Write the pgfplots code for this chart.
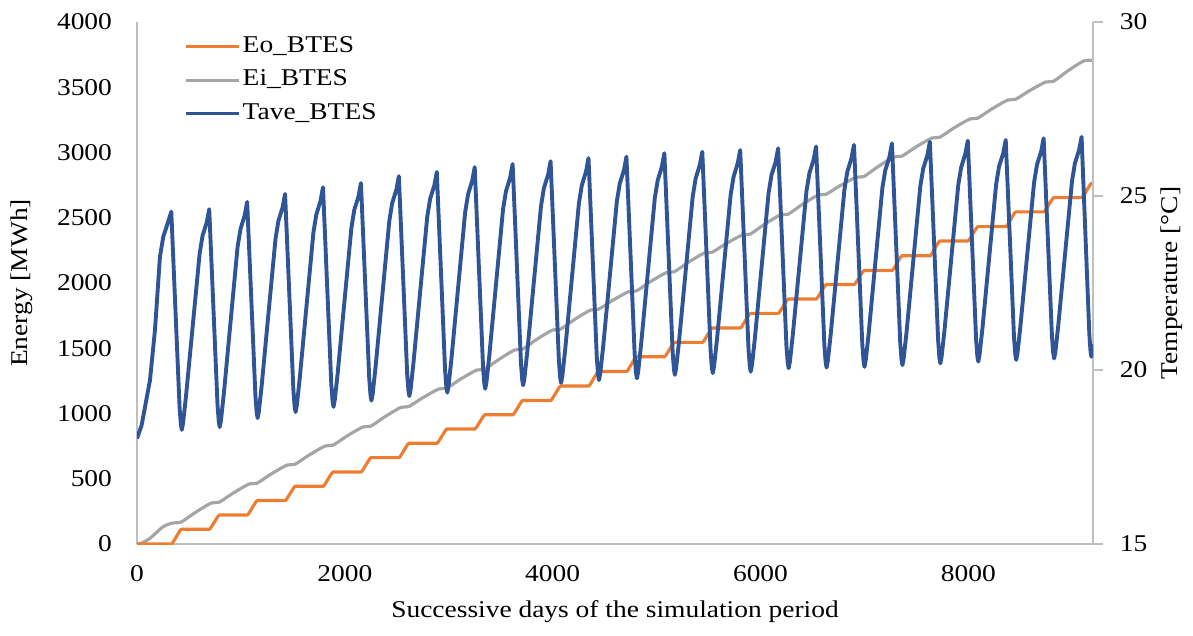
\documentclass[border=0pt]{standalone}
\usepackage{fontspec}
\setmainfont{Liberation Serif}[FakeStretch=1.14]
\usepackage{pgfplots}
\pgfplotsset{compat=1.18}
\definecolor{cOr}{HTML}{ED7D31}
\definecolor{cGr}{HTML}{A5A5A5}
\definecolor{cBl}{HTML}{2F5597}
\definecolor{cAx}{HTML}{BFBFBF}
\begin{document}%
\fontsize{13}{15}\selectfont%
\begin{tikzpicture}[font=\fontsize{13}{15}\selectfont]
\path[use as bounding box] (-73.98pt,-49.14pt) rectangle (570.24pt,293.76pt);
\begin{axis}[
  at={(0pt,0pt)}, anchor=south west,
  scale only axis, width=516.24pt, height=281.88pt,
  xmin=0, xmax=9200, ymin=0, ymax=4000,
  axis x line*=bottom, axis y line*=left,
  axis line style={draw=cAx, line width=1.1pt},
  xtick={0,2000,4000,6000,8000}, ytick={0,500,...,4000},
  major tick length=0pt,
  /pgf/number format/assume math mode=true,
  /pgf/number format/1000 sep={},
  yticklabel style={xshift=-9pt},
  xticklabel style={yshift=-7pt},
  xlabel={Successive days of the simulation period},
  ylabel={Energy [MWh]},
  xlabel style={at={(axis description cs:0.5,-0.13)}, anchor=center},
  ylabel style={at={(axis description cs:-0.1203,0.5)}, anchor=center},
]
\addplot[cGr, line width=1.7pt, smooth, tension=0.5] coordinates {
(0,0)(40,5)(125,44)(253,133)(350,162)(425,168)(560,241)
(715,314)(790,320)(925,390)
(1080,460)(1155,466)(1290,536)
(1445,605)(1520,611)(1655,681)
(1810,751)(1885,757)(2020,827)
(2175,897)(2250,903)(2385,975)
(2540,1047)(2615,1053)(2750,1121)
(2905,1188)(2980,1194)(3115,1264)
(3270,1333)(3345,1339)(3480,1413)
(3635,1487)(3710,1493)(3845,1567)
(4000,1640)(4075,1646)(4210,1720)
(4365,1793)(4440,1799)(4575,1866)
(4730,1933)(4805,1939)(4940,2010)
(5095,2080)(5170,2086)(5305,2158)
(5460,2230)(5535,2236)(5670,2302)
(5825,2368)(5900,2374)(6035,2448)
(6190,2521)(6265,2527)(6400,2601)
(6555,2674)(6630,2680)(6765,2745)
(6920,2810)(6995,2816)(7130,2891)
(7285,2966)(7360,2972)(7495,3042)
(7650,3111)(7725,3117)(7860,3187)
(8015,3257)(8090,3263)(8225,3333)
(8380,3402)(8455,3408)(8590,3474)
(8745,3540)(8820,3546)(8955,3624)
(9110,3701)(9200,3704)
};
\addplot[cOr, line width=1.7pt, line join=round] coordinates {
(0,0)(333,0)(345,11)(413,102)(427,113)
(698,113)(710,124)(778,211)(792,222)
(1063,222)(1075,233)(1143,322)(1157,333)
(1428,333)(1440,344)(1508,431)(1522,442)
(1793,442)(1805,453)(1873,541)(1887,552)
(2158,552)(2170,563)(2238,651)(2252,662)
(2523,662)(2535,673)(2603,761)(2617,772)
(2888,772)(2900,783)(2968,870)(2982,881)
(3253,881)(3265,892)(3333,979)(3347,990)
(3618,990)(3630,1001)(3698,1089)(3712,1100)
(3983,1100)(3995,1111)(4063,1200)(4077,1211)
(4348,1211)(4360,1222)(4428,1311)(4442,1322)
(4713,1322)(4725,1333)(4793,1424)(4807,1435)
(5078,1435)(5090,1446)(5158,1534)(5172,1545)
(5443,1545)(5455,1556)(5523,1644)(5537,1655)
(5808,1655)(5820,1666)(5888,1756)(5902,1767)
(6173,1767)(6185,1778)(6253,1866)(6267,1877)
(6538,1877)(6550,1888)(6618,1977)(6632,1988)
(6903,1988)(6915,1999)(6983,2085)(6997,2096)
(7268,2096)(7280,2107)(7348,2198)(7362,2209)
(7633,2209)(7645,2220)(7713,2311)(7727,2322)
(7998,2322)(8010,2333)(8078,2421)(8092,2432)
(8363,2432)(8375,2443)(8443,2534)(8457,2545)
(8728,2545)(8740,2556)(8808,2643)(8822,2654)
(9093,2654)(9105,2665)(9173,2753)(9187,2764)(9200,2764)
};
\end{axis}
\begin{axis}[
  at={(0pt,0pt)}, anchor=south west,
  scale only axis, width=516.24pt, height=281.88pt,
  xmin=0, xmax=9200, ymin=15, ymax=30,
  axis y line*=right, axis x line=none,
  axis line style={draw=cAx, line width=1.1pt},
  ytick={15,20,25,30},
  tick align=outside, major tick length=5.4pt,
  tick style={draw=cAx, line width=1.1pt},
  /pgf/number format/assume math mode=true,
  yticklabel style={xshift=4.6pt},
  ylabel={Temperature [°C]},
  ylabel style={at={(axis description cs:1.0826,0.5)}, anchor=center},
  legend cell align=left,
  legend style={at={(axis description cs:0.043,0.985)}, anchor=north west,
    draw=none, fill=none, row sep=4pt,
    nodes={inner sep=1pt, text height=9pt, text depth=3pt}},
  legend image code/.code={\draw[#1] (0pt,0pt) -- (28.6pt,0pt);},
]
\addlegendimage{cOr, line width=1.7pt}
\addlegendentry{Eo\_BTES}
\addlegendimage{cGr, line width=1.7pt}
\addlegendentry{Ei\_BTES}
\addplot[cBl, line width=2.1pt, line join=round] coordinates {
(0,18.03)(45,18.42)(125,19.71)(173,21.15)(221,23.26)(253,23.83)(285,24.12)(330,24.55)(410,18.91)(422,18.44)(431,18.28)
(443,18.47)(471,19.23)(603,23.35)(631,23.86)(671,24.24)(695,24.62)(775,18.99)(787,18.52)(796,18.36)
(808,18.55)(836,19.33)(968,23.54)(996,24.05)(1036,24.44)(1060,24.83)(1140,19.24)(1152,18.78)(1161,18.62)
(1173,18.81)(1201,19.59)(1333,23.77)(1361,24.29)(1401,24.67)(1425,25.06)(1505,19.42)(1517,18.95)(1526,18.79)
(1538,18.98)(1566,19.76)(1698,23.96)(1726,24.47)(1766,24.86)(1790,25.25)(1870,19.57)(1882,19.10)(1891,18.94)
(1903,19.13)(1931,19.90)(2063,24.08)(2091,24.60)(2131,24.98)(2155,25.37)(2235,19.75)(2247,19.28)(2256,19.12)
(2268,19.31)(2296,20.09)(2428,24.28)(2456,24.80)(2496,25.18)(2520,25.57)(2600,19.88)(2612,19.41)(2621,19.25)
(2633,19.44)(2661,20.22)(2793,24.40)(2821,24.92)(2861,25.30)(2885,25.69)(2965,19.98)(2977,19.51)(2986,19.35)
(2998,19.54)(3026,20.32)(3158,24.53)(3186,25.05)(3226,25.44)(3250,25.83)(3330,20.10)(3342,19.62)(3351,19.46)
(3363,19.65)(3391,20.43)(3523,24.63)(3551,25.14)(3591,25.53)(3615,25.92)(3695,20.20)(3707,19.72)(3716,19.56)
(3728,19.75)(3756,20.53)(3888,24.71)(3916,25.23)(3956,25.61)(3980,26.00)(4060,20.27)(4072,19.79)(4081,19.63)
(4093,19.82)(4121,20.60)(4253,24.80)(4281,25.31)(4321,25.70)(4345,26.09)(4425,20.35)(4437,19.87)(4446,19.71)
(4458,19.90)(4486,20.67)(4618,24.85)(4646,25.36)(4686,25.74)(4710,26.13)(4790,20.40)(4802,19.92)(4811,19.76)
(4823,19.95)(4851,20.73)(4983,24.94)(5011,25.45)(5051,25.84)(5075,26.23)(5155,20.50)(5167,20.02)(5176,19.86)
(5188,20.05)(5216,20.82)(5348,24.99)(5376,25.50)(5416,25.89)(5440,26.27)(5520,20.55)(5532,20.07)(5541,19.91)
(5553,20.10)(5581,20.87)(5713,25.04)(5741,25.55)(5781,25.94)(5805,26.32)(5885,20.59)(5897,20.11)(5906,19.95)
(5918,20.14)(5946,20.91)(6078,25.09)(6106,25.60)(6146,25.98)(6170,26.37)(6250,20.68)(6262,20.21)(6271,20.05)
(6283,20.24)(6311,21.01)(6443,25.15)(6471,25.66)(6511,26.04)(6535,26.42)(6615,20.71)(6627,20.23)(6636,20.07)
(6648,20.26)(6676,21.03)(6808,25.19)(6836,25.70)(6876,26.09)(6900,26.47)(6980,20.73)(6992,20.25)(7001,20.09)
(7013,20.28)(7041,21.05)(7173,25.23)(7201,25.74)(7241,26.12)(7265,26.51)(7345,20.78)(7357,20.30)(7366,20.14)
(7378,20.33)(7406,21.10)(7538,25.28)(7566,25.79)(7606,26.17)(7630,26.56)(7710,20.83)(7722,20.35)(7731,20.19)
(7743,20.38)(7771,21.15)(7903,25.31)(7931,25.82)(7971,26.21)(7995,26.59)(8075,20.88)(8087,20.40)(8096,20.24)
(8108,20.43)(8136,21.20)(8268,25.34)(8296,25.85)(8336,26.23)(8360,26.61)(8440,20.92)(8452,20.45)(8461,20.29)
(8473,20.48)(8501,21.25)(8633,25.39)(8661,25.90)(8701,26.28)(8725,26.66)(8805,20.96)(8817,20.49)(8826,20.33)
(8838,20.52)(8866,21.29)(8998,25.43)(9026,25.94)(9066,26.32)(9090,26.70)(9165,21.01)(9176,20.54)(9184,20.38)(9200,20.75)
};
\addlegendentry{Tave\_BTES}
\end{axis}
\end{tikzpicture}%
\end{document}
